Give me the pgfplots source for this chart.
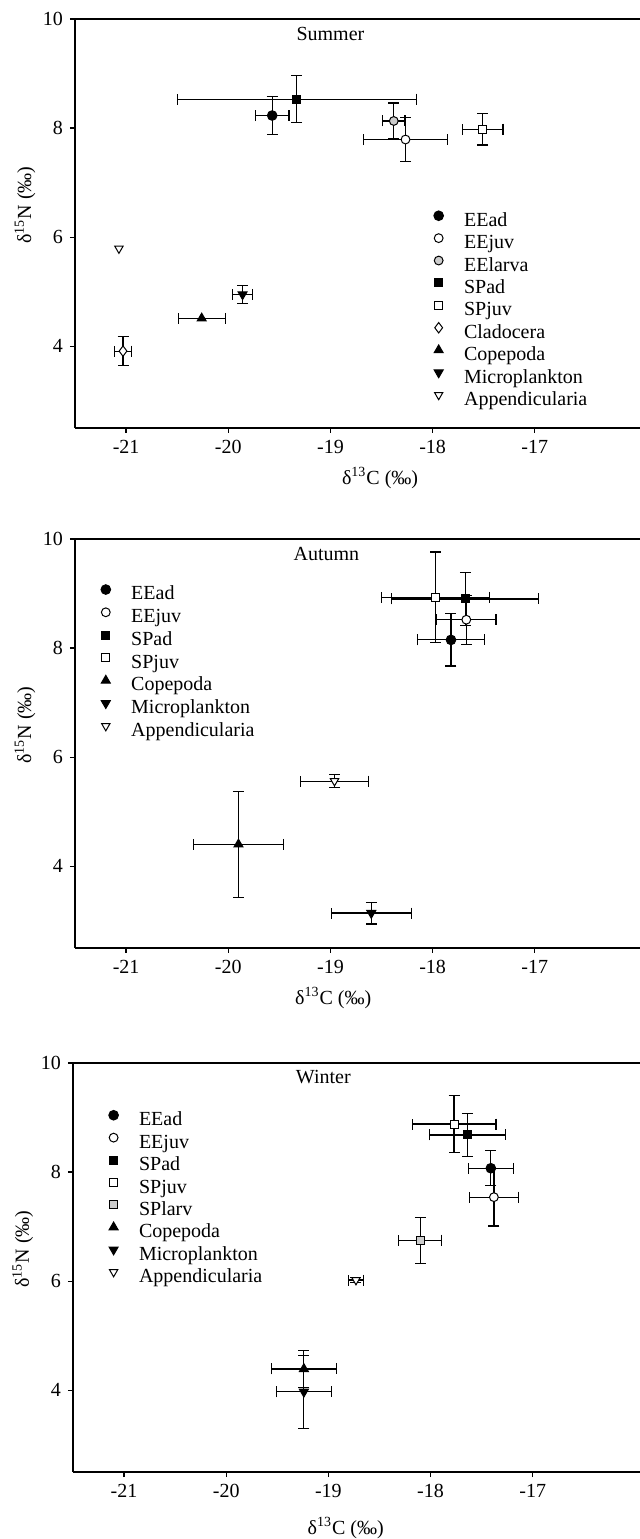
\documentclass[border=0pt]{standalone}
\usepackage{fontspec}
\setmainfont{Liberation Serif}
\usepackage{pgfplots}
\pgfplotsset{compat=1.18}
\newcommand{\ff}{\fontsize{10}{10}\selectfont}
\pgfplotsset{
  panel/.style={
    scale only axis, width=282.5pt, height=204.5pt,
    xmin=-21.5, xmax=-15.97, ymin=2.5, ymax=10,
    axis x line*=bottom, axis y line*=left,
    xtick={-21,-20,-19,-18,-17}, ytick={4,6,8,10},
    tick align=outside, major tick length=2.5pt,
    axis line style={line width=0.6pt, black},
    tick style={line width=0.6pt, black},
    tick label style={font=\ff},
    label style={font=\ff},
    /pgf/number format/assume math mode=true,
    clip=false,
    ylabel={δ\textsuperscript{15}N (‰)},
    ylabel style={at={(axis description cs:-0.0885,0.545)}, rotate=0, anchor=center},
    xlabel={δ\textsuperscript{13}C (‰)},
    legend cell align=left,
    legend image code/.code={\draw[##1] plot coordinates {(0pt,3.3pt)}; \path (-3pt,0pt) (12.5pt,6pt);},
  },
  lgd/.style n args={3}{legend style={at={(axis cs:#1,#2)}, anchor=north west, draw=none, fill=none, inner sep=0pt,
      font=\ff, row sep=0pt,
      nodes={inner sep=0pt, text height=7pt, text depth=#3}}},
  eb/.style={error bars/x dir=both, error bars/x explicit, error bars/y dir=both, error bars/y explicit,
     error bars/error bar style={line width=0.6pt, black},
     error bars/error mark options={rotate=90, mark size=2.75pt, line width=0.6pt, black}},
  ebx/.style={error bars/x dir=both, error bars/x explicit,
     error bars/error bar style={line width=0.6pt, black},
     error bars/error mark options={rotate=90, mark size=2.75pt, line width=0.6pt, black}},
  mEEad/.style={only marks, mark=*, mark size=2.4pt, mark options={draw=black, fill=black, line width=0.5pt}},
  mEEjuv/.style={only marks, mark=*, mark size=2.2pt, mark options={draw=black, fill=white, line width=0.5pt}},
  mEElarva/.style={only marks, mark=*, mark size=2.2pt, mark options={draw=black, fill=gray!40, line width=0.5pt}},
  mSPad/.style={only marks, mark=square*, mark size=2pt, mark options={draw=black, fill=black, line width=0.5pt}},
  mSPjuv/.style={only marks, mark=square*, mark size=2pt, mark options={draw=black, fill=white, line width=0.5pt}},
  mSPlarv/.style={only marks, mark=square*, mark size=2pt, mark options={draw=black, fill=gray!40, line width=0.5pt}},
  mClad/.style={only marks, mark=diamond*, mark size=2.6pt, mark options={draw=black, fill=white, line width=0.5pt}},
  mCope/.style={only marks, mark=triangle*, mark size=2.6pt, mark options={draw=black, fill=black, line width=0.5pt}},
  mMicro/.style={only marks, mark=triangle*, mark size=2.6pt, mark options={draw=black, fill=black, line width=0.5pt, rotate=180}},
  mApp/.style={only marks, mark=triangle*, mark size=2.4pt, mark options={draw=black, fill=white, line width=0.5pt, rotate=180}},
}
\begin{document}
\begin{tikzpicture}
\path[use as bounding box] (0pt,0pt) rectangle (320pt,769.5pt);
% ---------------- Summer
\begin{axis}[panel, at={(37.5pt,555.5pt)}, anchor=south west,
  xlabel style={at={(axis description cs:0.540,-0.122)}, anchor=center},
  lgd={-18.007}{6.506}{3pt}]
\addplot[mEEad, eb] coordinates {(-19.57,8.23) +- (0.165,0.35)};
\addlegendentry{EEad}
\addplot[mEEjuv, eb] coordinates {(-18.265,7.79) +- (0.41,0.41)};
\addlegendentry{EEjuv}
\addplot[mEElarva, eb] coordinates {(-18.38,8.13) +- (0.11,0.33)};
\addlegendentry{EElarva}
\addplot[mSPad, eb] coordinates {(-19.33,8.53) +- (1.17,0.43)};
\addlegendentry{SPad}
\addplot[mSPjuv, eb] coordinates {(-17.51,7.98) +- (0.20,0.29)};
\addlegendentry{SPjuv}
\addplot[mClad, eb] coordinates {(-21.03,3.91) +- (0.08,0.27)};
\addlegendentry{Cladocera}
\addplot[mCope, ebx] coordinates {(-20.26,4.51) +- (0.23,0)};
\addlegendentry{Copepoda}
\addplot[mMicro, eb] coordinates {(-19.86,4.95) +- (0.10,0.17)};
\addlegendentry{Microplankton}
\addplot[mApp] coordinates {(-21.07,5.79)};
\addlegendentry{Appendicularia}
\draw[line width=0.6pt, black] (rel axis cs:0,1) -- (rel axis cs:1,1);
\node[font=\ff] at (axis cs:-19,9.72) {Summer};
\end{axis}
% ---------------- Autumn
\begin{axis}[panel, at={(37.5pt,295.5pt)}, anchor=south west,
  xlabel style={at={(axis description cs:0.457,-0.122)}, anchor=center},
  lgd={-21.265}{9.187}{3.35pt}]
\addplot[mEEad, eb] coordinates {(-17.82,8.15) +- (0.33,0.48)};
\addlegendentry{EEad}
\addplot[mEEjuv, eb] coordinates {(-17.67,8.52) +- (0.29,0.45)};
\addlegendentry{EEjuv}
\addplot[mSPad, eb] coordinates {(-17.68,8.90) +- (0.72,0.49)};
\addlegendentry{SPad}
\addplot[mSPjuv, eb] coordinates {(-17.97,8.93) +- (0.53,0.83)};
\addlegendentry{SPjuv}
\addplot[mCope, eb] coordinates {(-19.90,4.40) +- (0.44,0.97)};
\addlegendentry{Copepoda}
\addplot[mMicro, eb] coordinates {(-18.60,3.14) +- (0.39,0.20)};
\addlegendentry{Microplankton}
\addplot[mApp, eb] coordinates {(-18.96,5.56) +- (0.33,0.115)};
\addlegendentry{Appendicularia}
\draw[line width=0.6pt, black] (rel axis cs:0,1) -- (rel axis cs:1,1);
\node[font=\ff] at (axis cs:-19.04,9.73) {Autumn};
\end{axis}
% ---------------- Winter
\begin{axis}[panel, at={(36.5pt,33.5pt)}, anchor=south west, width=283.5pt, xmax=-15.95,
  xlabel style={at={(axis description cs:0.481,-0.137)}, anchor=center},
  lgd={-21.169}{9.156}{3pt}]
\addplot[mEEad, eb] coordinates {(-17.41,8.07) +- (0.22,0.32)};
\addlegendentry{EEad}
\addplot[mEEjuv, eb] coordinates {(-17.38,7.54) +- (0.24,0.53)};
\addlegendentry{EEjuv}
\addplot[mSPad, eb] coordinates {(-17.64,8.68) +- (0.37,0.40)};
\addlegendentry{SPad}
\addplot[mSPjuv, eb] coordinates {(-17.77,8.88) +- (0.41,0.52)};
\addlegendentry{SPjuv}
\addplot[mSPlarv, eb] coordinates {(-18.10,6.75) +- (0.21,0.42)};
\addlegendentry{SPlarv}
\addplot[mCope, eb] coordinates {(-19.24,4.39) +- (0.32,0.34)};
\addlegendentry{Copepoda}
\addplot[mMicro, eb] coordinates {(-19.24,3.97) +- (0.27,0.67)};
\addlegendentry{Microplankton}
\addplot[mApp, eb] coordinates {(-18.73,6.02) +- (0.07,0.05)};
\addlegendentry{Appendicularia}
\draw[line width=0.6pt, black] (rel axis cs:0,1) -- (rel axis cs:1,1);
\node[font=\ff] at (axis cs:-19.05,9.75) {Winter};
\end{axis}
\end{tikzpicture}
\end{document}
